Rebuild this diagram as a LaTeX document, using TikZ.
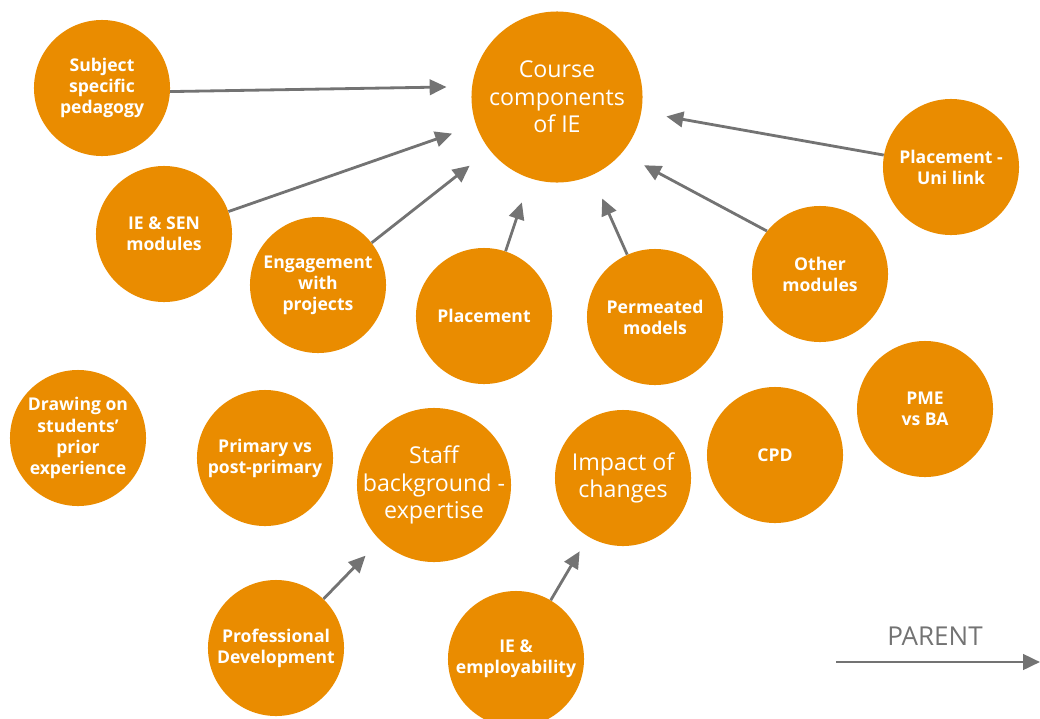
\documentclass[tikz,border=0pt]{standalone}
\usepackage{fontspec}
\setmainfont{Open Sans}
\usetikzlibrary{arrows.meta}
\definecolor{ieorange}{HTML}{EA8C00}
\definecolor{arrowgray}{HTML}{737373}
\tikzset{
  topic/.style={circle,fill=ieorange,text=white,inner sep=0pt,minimum size=3.4cm,
    align=center,font=\bfseries\fontsize{12.5}{15}\selectfont},
  theme/.style={topic,font=\fontsize{16.5}{19.5}\selectfont},
  feed/.style={draw=arrowgray,line width=2pt,-{Triangle[length=12pt,width=11pt]},shorten >=18pt},
}
\begin{document}
\begin{tikzpicture}[x=0.025cm,y=-0.025cm]
\useasboundingbox (0,0) rectangle (1040,718);
% course components
\node[theme,minimum size=4.275cm] (course) at (557,97) {Course\\components\\of IE};
\node[topic] (subj) at (102,88) {Subject\\specific\\pedagogy};
\node[topic] (iesen) at (164,234) {IE \& SEN\\modules};
\node[topic] (engage) at (318,285) {Engagement\\with\\projects};
\node[topic] (place) at (484,316) {Placement};
\node[topic] (permeate) at (655,317) {Permeated\\models};
\node[topic] (others) at (820,274) {Other\\modules};
\node[topic] (unilink) at (951,167) {Placement -\\Uni link};
% lower row
\node[topic] (prior) at (78,438) {Drawing on\\students’\\prior\\experience};
\node[topic] (primary) at (265,458) {Primary vs\\post-primary};
\node[theme,minimum size=3.85cm,inner sep=-6pt] (staff) at (434,485) {Staff\\background -\\expertise};
\node[theme] (impact) at (623,478) {Impact of\\changes};
\node[topic] (cpd) at (775,455) {CPD};
\node[topic] (pmeba) at (925,409) {PME\\vs BA};
\node[topic] (profdev) at (276,648) {Professional\\Development};
\node[topic] (employ) at (516,659) {IE \&\\employability};
\foreach \src/\tgt in {subj.-3/course.173,iesen/course,engage/course,place/course,
    permeate/course,others.141/course.-41,unilink/course}
  \draw[feed] (\src) -- (\tgt);
\draw[feed,shorten >=15pt] (profdev) -- (staff);
\draw[feed,shorten >=12pt] (employ) -- (impact);
% legend
\node[text=arrowgray,font=\fontsize{18.5}{20}\selectfont] (parent) at (935,636) {PARENT};
\coordinate (legstart) at (836,662);
\coordinate (legend) at (1040,662);
\draw[feed,shorten >=0pt] (legstart) -- (legend);
\end{tikzpicture}
\end{document}
